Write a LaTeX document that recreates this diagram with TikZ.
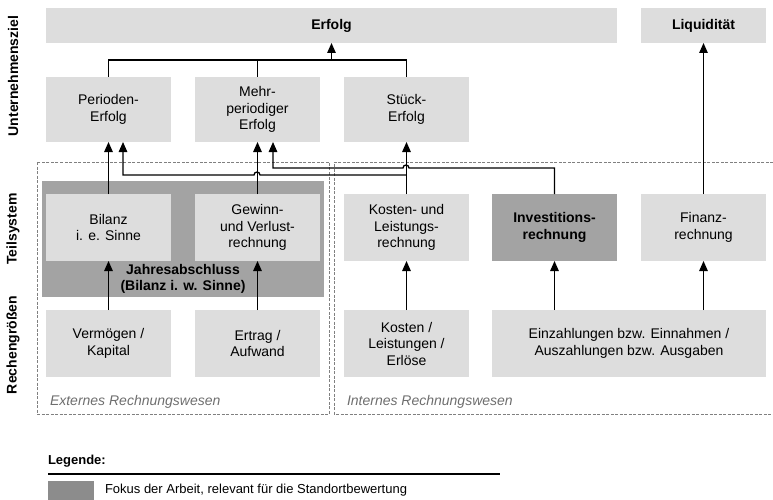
\documentclass[tikz,border=0pt]{standalone}
\usepackage{fontspec}
\setmainfont{Liberation Sans}
\usetikzlibrary{arrows.meta}
\definecolor{boxlight}{HTML}{DDDDDD}
\definecolor{boxdark}{HTML}{A3A3A3}
\definecolor{legdark}{HTML}{8C8C8C}
\definecolor{framegrey}{HTML}{808080}
\definecolor{notegrey}{HTML}{6E6E6E}
\begin{document}
\begin{tikzpicture}[x=1pt,y=-1pt,
  every node/.style={inner sep=0pt, outer sep=0pt},
  txt/.style={font=\fontsize{14}{16.5}\selectfont, align=center},
  cell/.style={txt, fill=boxlight, minimum width=125pt, minimum height=67pt, anchor=north west},
  focus/.style={cell, fill=boxdark, font=\fontsize{14}{16.5}\selectfont\bfseries},
  goal/.style={txt, fill=boxlight, minimum height=35pt, anchor=north west, font=\fontsize{14}{16.5}\selectfont\bfseries},
  rowlabel/.style={font=\fontsize{14}{16.5}\selectfont\bfseries, rotate=90},
  area/.style={draw=framegrey, line width=0.8pt, dash pattern=on 3pt off 1.5pt},
  note/.style={font=\fontsize{14}{16.5}\selectfont\itshape, text=notegrey, anchor=west},
  link/.style={line width=1.3pt},
  conn/.style={link, -{Triangle[length=10pt,width=8.5pt]}}
]
\useasboundingbox (0,0) rectangle (773,500);

% row labels
\node[rowlabel] (lz) at (13,76) {Unternehmensziel};
\node[rowlabel] (lt) at (13,229) {Teilsystem};
\node[rowlabel] (lr) at (13,345) {Rechengrößen};

% accounting areas
\draw[area] (37,162) rectangle (329,414);
\draw[area] (773,162) -- (334,162) -- (334,414) -- (773,414);
\node[note] (ext) at (50,402) {Externes Rechnungswesen};
\node[note] (int) at (347,402) {Internes Rechnungswesen};

% goals
\node[goal, minimum width=571pt] (erf) at (46,8) {Erfolg};
\node[goal, minimum width=125pt] (liq) at (641,8) {Liquidität};

% success measures
\node[cell, minimum height=65pt] (per) at (46,77) {Perioden-\\Erfolg};
\node[cell, minimum height=65pt] (mpe) at (195,77) {Mehr-\\periodiger\\Erfolg};
\node[cell, minimum height=65pt] (stk) at (344,77) {Stück-\\Erfolg};

% annual financial statement
\node[fill=boxdark, minimum width=282pt, minimum height=116pt, anchor=north west] (jab) at (42,181) {};
\node[txt, font=\fontsize{14}{16.5}\selectfont\bfseries] (jabt) at (183,279) {Jahresabschluss\\(Bilanz i. w. Sinne)};

% subsystems
\node[cell] (bil) at (46,194) {Bilanz\\i. e. Sinne};
\node[cell] (guv) at (195,194) {Gewinn-\\und Verlust-\\rechnung};
\node[cell] (klr) at (344,194) {Kosten- und\\Leistungs-\\rechnung};
\node[focus] (inv) at (492,194) {Investitions-\\rechnung};
\node[cell] (fin) at (641,194) {Finanz-\\rechnung};

% accounting quantities
\node[cell] (vk) at (46,310) {Vermögen /\\Kapital};
\node[cell] (ea) at (195,310) {Ertrag /\\Aufwand};
\node[cell] (kle) at (344,310) {Kosten /\\Leistungen /\\Erlöse};
\node[cell, minimum width=274pt] (ein) at (492,310) {Einzahlungen bzw. Einnahmen /\\Auszahlungen bzw. Ausgaben};

% quantities feed the subsystems
\draw[conn] (vk.north) -- (bil.south);
\draw[conn] (ea.north) -- (guv.south);
\draw[conn] (kle.north) -- (klr.south);
\draw[conn] (ein.north -| inv.south) -- (inv.south);
\draw[conn] (ein.north -| fin.south) -- (fin.south);

% subsystems feed the success measures
\draw[conn] (bil.north) -- (per.south);
\draw[conn] (guv.north) -- (mpe.south);
\draw[conn] (klr.north) -- (stk.south);
\draw[conn] (klr.north |- 0,175) -- (260,175)
  arc[start angle=0, end angle=180, radius=3pt] -- (123,175) -- (per.south -| 123,0);
\draw[conn] (inv.north) -- (inv.north |- 0,168) -- (409,168)
  arc[start angle=0, end angle=180, radius=3pt] -- (273,168) -- (mpe.south -| 273,0);

% success measures feed the overall goals
\draw[link] (per.north) -- (per.north |- 0,60) -- (stk.north |- 0,60) -- (stk.north);
\draw[link] (mpe.north) -- (mpe.north |- 0,60);
\draw[conn] (erf.south |- 0,60) -- (erf.south);
\draw[conn] (fin.north) -- (liq.south);

% legend
\node[font=\fontsize{13}{15}\selectfont\bfseries, anchor=west] (leg) at (48,461) {Legende:};
\draw[line width=1.6pt] (48,474) -- (500,474);
\node[fill=legdark, minimum width=46pt, minimum height=19pt, anchor=north west] (legbox) at (48,481) {};
\node[font=\fontsize{13}{15}\selectfont, anchor=west] (legtxt) at (105,490) {Fokus der Arbeit, relevant für die Standortbewertung};
\end{tikzpicture}
\end{document}
